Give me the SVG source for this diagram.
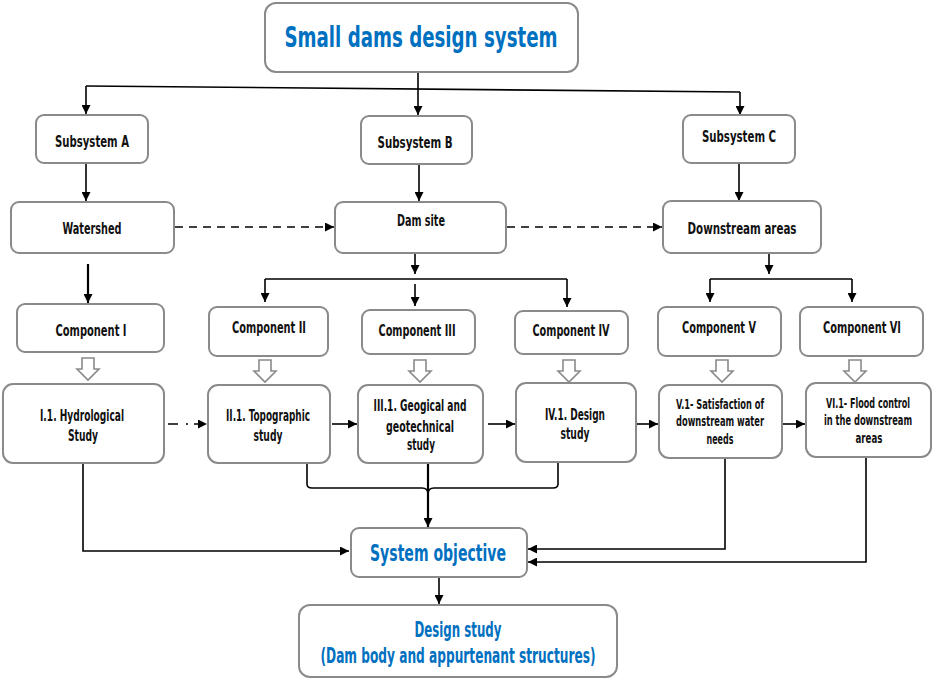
<svg xmlns="http://www.w3.org/2000/svg" width="933" height="678" viewBox="0 0 933 678">
  <style>
    .box { fill: #ffffff; stroke: #8a8a8a; stroke-width: 2; }
    .t { font-family: "DejaVu Sans Condensed", "Liberation Sans", sans-serif; font-weight: bold; font-size: 16px; fill: #111111; text-anchor: middle; }
    .s { font-size: 13.5px; }
    .title { font-size: 29px; }
    .obj { font-size: 23px; }
    .ds { font-size: 21px; }
    .blue { fill: #0070C0; }
    .ln { fill: none; stroke: #000000; stroke-width: 1.6; }
    .thick { stroke-width: 2.2; }
    .hollow { fill: #ffffff; stroke: #8a8a8a; stroke-width: 1.6; }
  </style>
  <defs>
    <marker id="ah" viewBox="0 0 10 10" refX="10" refY="5" markerWidth="9" markerHeight="9" markerUnits="userSpaceOnUse" orient="auto">
      <path d="M0,0 L10,5 L0,10 z" fill="#000000"/>
    </marker>
    <path id="blk" d="M-6,0 H6 V11 H11 L0,22 L-11,11 H-6 Z"/>
  </defs>

  <rect width="933" height="678" fill="#ffffff"/>

  <!-- connectors -->
  <g id="connectors">
    <path class="ln" d="M418,72 V86" />
    <path class="ln" d="M86,86 L740,92" />
    <path class="ln" d="M86,86 V114" marker-end="url(#ah)"/>
    <path class="ln" d="M418,86 V115" marker-end="url(#ah)"/>
    <path class="ln" d="M740,92 V115" marker-end="url(#ah)"/>

    <path class="ln" d="M86,163 V201" marker-end="url(#ah)"/>
    <path class="ln" d="M419,164 V201" marker-end="url(#ah)"/>
    <path class="ln" d="M739,163 V201" marker-end="url(#ah)"/>

    <path class="ln" d="M175,227 H334" stroke-dasharray="8 6" marker-end="url(#ah)"/>
    <path class="ln" d="M507,227 H662" stroke-dasharray="8 6" marker-end="url(#ah)"/>

    <path class="ln thick" d="M88,264 V303" marker-end="url(#ah)"/>

    <path class="ln" d="M415,253 V274" marker-end="url(#ah)"/>
    <path class="ln" d="M265,279 H567" />
    <path class="ln" d="M265,279 V302" marker-end="url(#ah)"/>
    <path class="ln" d="M415,284 V306" marker-end="url(#ah)"/>
    <path class="ln" d="M567,279 V307" marker-end="url(#ah)"/>

    <path class="ln" d="M769,253 V274" marker-end="url(#ah)"/>
    <path class="ln" d="M710,279 H852" />
    <path class="ln" d="M710,279 V302" marker-end="url(#ah)"/>
    <path class="ln" d="M852,279 V302" marker-end="url(#ah)"/>

    <use href="#blk" class="hollow" x="88" y="358"/>
    <use href="#blk" class="hollow" x="265" y="360"/>
    <use href="#blk" class="hollow" x="420" y="360"/>
    <use href="#blk" class="hollow" x="569" y="360"/>
    <use href="#blk" class="hollow" x="722" y="360"/>
    <use href="#blk" class="hollow" x="855" y="360"/>

    <path class="ln" d="M168,424 H207" stroke-dasharray="10 8 2 6" marker-end="url(#ah)"/>
    <path class="ln" d="M332,424 H357" marker-end="url(#ah)"/>
    <path class="ln" d="M488,424 H515" marker-end="url(#ah)"/>
    <path class="ln" d="M637,424 H658" marker-end="url(#ah)"/>
    <path class="ln" d="M782,424 H805" marker-end="url(#ah)"/>

    <path class="ln" d="M83,463 V551 H349" marker-end="url(#ah)"/>
    <path class="ln" d="M307,463 V484 Q307,488 312,488 H422 Q428,488 428,494" />
    <path class="ln" d="M558,463 V484 Q558,488 553,488 H434 Q428,488 428,494" />
    <path class="ln thick" d="M428,463 V527" marker-end="url(#ah)"/>
    <path class="ln" d="M725,458 V549 H528" marker-end="url(#ah)"/>
    <path class="ln" d="M866,457 V562 H528" marker-end="url(#ah)"/>

    <path class="ln" d="M439,577 V604" marker-end="url(#ah)"/>
  </g>

  <!-- nodes -->
  <g id="title">
    <rect class="box" x="265" y="3" width="313" height="69" rx="11"/>
    <text class="t title blue" x="421" y="47" textLength="273" lengthAdjust="spacingAndGlyphs">Small dams design system</text>
  </g>

  <g id="subsystem-a">
    <rect class="box" x="36" y="115" width="112" height="48" rx="8"/>
    <text class="t" x="92" y="147" textLength="74" lengthAdjust="spacingAndGlyphs">Subsystem A</text>
  </g>
  <g id="subsystem-b">
    <rect class="box" x="361" y="116" width="111" height="48" rx="8"/>
    <text class="t" x="415" y="148" textLength="75" lengthAdjust="spacingAndGlyphs">Subsystem B</text>
  </g>
  <g id="subsystem-c">
    <rect class="box" x="683" y="115" width="112" height="48" rx="8"/>
    <text class="t" x="739" y="142" textLength="74" lengthAdjust="spacingAndGlyphs">Subsystem C</text>
  </g>

  <g id="watershed">
    <rect class="box" x="11" y="202" width="163" height="51" rx="8"/>
    <text class="t" x="92" y="234" textLength="59" lengthAdjust="spacingAndGlyphs">Watershed</text>
  </g>
  <g id="dam-site">
    <rect class="box" x="335" y="202" width="171" height="51" rx="8"/>
    <text class="t" x="421" y="226" textLength="48" lengthAdjust="spacingAndGlyphs">Dam site</text>
  </g>
  <g id="downstream-areas">
    <rect class="box" x="663" y="201" width="158" height="52" rx="8"/>
    <text class="t" x="742" y="234" textLength="109" lengthAdjust="spacingAndGlyphs">Downstream  areas</text>
  </g>

  <g id="component-1">
    <rect class="box" x="17" y="304" width="147" height="48" rx="8"/>
    <text class="t" x="91" y="336" textLength="71" lengthAdjust="spacingAndGlyphs">Component  I</text>
  </g>
  <g id="component-2">
    <rect class="box" x="209" y="307" width="119" height="49" rx="8"/>
    <text class="t" x="269" y="333" textLength="74" lengthAdjust="spacingAndGlyphs">Component  II</text>
  </g>
  <g id="component-3">
    <rect class="box" x="362" y="310" width="113" height="44" rx="8"/>
    <text class="t" x="417" y="336" textLength="77" lengthAdjust="spacingAndGlyphs">Component  III</text>
  </g>
  <g id="component-4">
    <rect class="box" x="515" y="311" width="113" height="43" rx="8"/>
    <text class="t" x="571" y="336" textLength="77" lengthAdjust="spacingAndGlyphs">Component  IV</text>
  </g>
  <g id="component-5">
    <rect class="box" x="658" y="307" width="123" height="49" rx="8"/>
    <text class="t" x="719" y="333" textLength="74" lengthAdjust="spacingAndGlyphs">Component  V</text>
  </g>
  <g id="component-6">
    <rect class="box" x="800" y="307" width="123" height="49" rx="8"/>
    <text class="t" transform="translate(862,333) scale(0.75,1)" x="0" y="0" textLength="104" lengthAdjust="spacingAndGlyphs">Component VI</text>
  </g>

  <g id="study-1">
    <rect class="box" x="3" y="384" width="161" height="79" rx="10"/>
    <text class="t" x="82" y="421" textLength="84" lengthAdjust="spacingAndGlyphs">I.1. Hydrological</text>
    <text class="t" x="83" y="441" textLength="30" lengthAdjust="spacingAndGlyphs">Study</text>
  </g>
  <g id="study-2">
    <rect class="box" x="208" y="385" width="122" height="78" rx="10"/>
    <text class="t" x="268" y="421" textLength="84" lengthAdjust="spacingAndGlyphs">II.1. Topographic</text>
    <text class="t" x="268" y="441" textLength="29" lengthAdjust="spacingAndGlyphs">study</text>
  </g>
  <g id="study-3">
    <rect class="box" x="358" y="385" width="125" height="78" rx="10"/>
    <text class="t" x="420" y="411" textLength="93" lengthAdjust="spacingAndGlyphs">III.1. Geogical and</text>
    <text class="t" x="420" y="432" textLength="68" lengthAdjust="spacingAndGlyphs">geotechnical</text>
    <text class="t" x="421" y="450" textLength="28" lengthAdjust="spacingAndGlyphs">study</text>
  </g>
  <g id="study-4">
    <rect class="box" x="516" y="383" width="120" height="79" rx="10"/>
    <text class="t" x="575" y="420" textLength="60" lengthAdjust="spacingAndGlyphs">IV.1. Design</text>
    <text class="t" x="575" y="439" textLength="29" lengthAdjust="spacingAndGlyphs">study</text>
  </g>
  <g id="study-5">
    <rect class="box" x="659" y="385" width="123" height="73" rx="10"/>
    <text class="t s" x="720" y="409" textLength="88" lengthAdjust="spacingAndGlyphs">V.1- Satisfaction of</text>
    <text class="t s" x="720" y="426" textLength="88" lengthAdjust="spacingAndGlyphs">downstream water</text>
    <text class="t s" x="720" y="444" textLength="27" lengthAdjust="spacingAndGlyphs">needs</text>
  </g>
  <g id="study-6">
    <rect class="box" x="806" y="383" width="125" height="74" rx="10"/>
    <text class="t s" transform="translate(868,408) scale(0.7,1)" x="0" y="0" textLength="120" lengthAdjust="spacingAndGlyphs">VI.1- Flood control</text>
    <text class="t s" transform="translate(868,425) scale(0.7,1)" x="0" y="0" textLength="126" lengthAdjust="spacingAndGlyphs">in the downstream</text>
    <text class="t s" x="869" y="443" textLength="27" lengthAdjust="spacingAndGlyphs">areas</text>
  </g>

  <g id="system-objective">
    <rect class="box" x="351" y="528" width="176" height="49" rx="8"/>
    <text class="t obj blue" x="438" y="561" textLength="136" lengthAdjust="spacingAndGlyphs">System objective</text>
  </g>
  <g id="design-study">
    <rect class="box" x="299" y="605" width="318" height="72" rx="11"/>
    <text class="t ds blue" x="458" y="637" textLength="87" lengthAdjust="spacingAndGlyphs">Design study</text>
    <text class="t ds blue" x="458" y="663" textLength="275" lengthAdjust="spacingAndGlyphs">(Dam body and appurtenant structures)</text>
  </g>
</svg>
